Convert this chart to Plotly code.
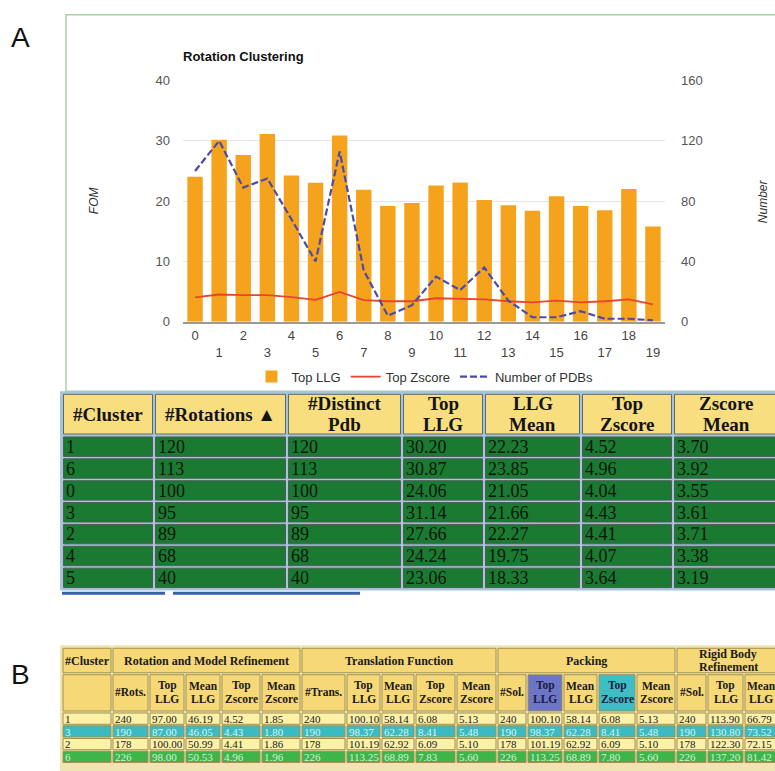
import plotly.graph_objects as go

W, H = 775, 771


def fx(x):
    return x / W


def fy(y):
    return 1 - y / H


# ---------------- chart data ----------------
clusters = list(range(20))
top_llg = [24.06, 30.20, 27.66, 31.14, 24.24, 23.06, 30.87, 21.9, 19.2, 19.7,
           22.6, 23.1, 20.2, 19.3, 18.4, 20.8, 19.2, 18.5, 22.0, 15.8]
top_zscore = [4.04, 4.52, 4.41, 4.43, 4.07, 3.64, 4.96, 3.6, 3.4, 3.4,
              3.9, 3.8, 3.7, 3.4, 3.2, 3.5, 3.2, 3.4, 3.7, 2.9]
n_pdbs = [100, 120, 89, 95, 68, 40, 113, 34, 4, 11,
          30, 21, 36, 14, 3, 3, 7, 2, 2, 1]
fom_ticks = [0, 10, 20, 30, 40]
number_ticks = [0, 40, 80, 120, 160]

# ---------------- table A data ----------------
ta_headers = ["#Cluster", "#Rotations ▲", "#Distinct<br>Pdb", "Top<br>LLG",
              "LLG<br>Mean", "Top<br>Zscore", "Zscore<br>Mean"]
ta_cluster = ["1", "6", "0", "3", "2", "4", "5"]
ta_rotations = ["120", "113", "100", "95", "89", "68", "40"]
ta_distinct = ["120", "113", "100", "95", "89", "68", "40"]
ta_top_llg = ["30.20", "30.87", "24.06", "31.14", "27.66", "24.24", "23.06"]
ta_llg_mean = ["22.23", "23.85", "21.05", "21.66", "22.27", "19.75", "18.33"]
ta_top_z = ["4.52", "4.96", "4.04", "4.43", "4.41", "4.07", "3.64"]
ta_z_mean = ["3.70", "3.92", "3.55", "3.61", "3.71", "3.38", "3.19"]

# ---------------- table B data ----------------
tb_groups = ["#Cluster", "Rotation and Model Refinement", "Translation Function",
             "Packing", "Rigid Body<br>Refinement"]
tb_headers = ["", "#Rots.", "Top<br>LLG", "Mean<br>LLG", "Top<br>Zscore", "Mean<br>Zscore",
              "#Trans.", "Top<br>LLG", "Mean<br>LLG", "Top<br>Zscore", "Mean<br>Zscore",
              "#Sol.", "Top<br>LLG", "Mean<br>LLG", "Top<br>Zscore", "Mean<br>Zscore",
              "#Sol.", "Top<br>LLG", "Mean<br>LLG"]
tb_cluster = ["1", "3", "2", "6"]
rmr_rots = ["240", "190", "178", "226"]
rmr_top_llg = ["97.00", "87.00", "100.00", "98.00"]
rmr_mean_llg = ["46.19", "46.05", "50.99", "50.53"]
rmr_top_z = ["4.52", "4.43", "4.41", "4.96"]
rmr_mean_z = ["1.85", "1.80", "1.86", "1.96"]
tf_trans = ["240", "190", "178", "226"]
tf_top_llg = ["100.10", "98.37", "101.19", "113.25"]
tf_mean_llg = ["58.14", "62.28", "62.92", "68.89"]
tf_top_z = ["6.08", "8.41", "6.09", "7.83"]
tf_mean_z = ["5.13", "5.48", "5.10", "5.60"]
pk_sol = ["240", "190", "178", "226"]
pk_top_llg = ["100.10", "98.37", "101.19", "113.25"]
pk_mean_llg = ["58.14", "62.28", "62.92", "68.89"]
pk_top_z = ["6.08", "8.41", "6.09", "7.80"]
pk_mean_z = ["5.13", "5.48", "5.10", "5.60"]
rb_sol = ["240", "190", "178", "226"]
rb_top_llg = ["113.90", "130.80", "122.30", "137.20"]
rb_mean_llg = ["66.79", "73.52", "72.15", "81.42"]

SANS = "Liberation Sans, Arial, sans-serif"
SERIF = "Liberation Serif, Times New Roman, serif"

shapes = []
annotations = []


def rect(x0, y0, x1, y1, fill, line_color=None, line_width=0):
    shapes.append(dict(type="rect", xref="paper", yref="paper",
                       x0=fx(x0), x1=fx(x1), y0=fy(y1), y1=fy(y0),
                       fillcolor=fill, layer="below",
                       line=dict(color=line_color or fill, width=line_width)))


def label(x, y, text, size, color, family, bold=False, anchor="left",
          line_gap=None, angle=0):
    lines = text.split("<br>")
    gap = line_gap if line_gap is not None else size * 1.05
    start = y - gap * (len(lines) - 1) / 2
    for i, ln in enumerate(lines):
        if not ln:
            continue
        annotations.append(dict(
            xref="paper", yref="paper", x=fx(x), y=fy(start + i * gap),
            text=f"<b>{ln}</b>" if bold else ln, showarrow=False,
            xanchor=anchor, yanchor="middle", textangle=angle, borderpad=0,
            font=dict(size=size, color=color, family=family)))


# ---------------- chart panel ----------------
rect(66, 8, 800, 392, "white", "#a9d1a9", 1.5)

fig = go.Figure()
fig.add_trace(go.Bar(x=clusters, y=top_llg, name="Top LLG",
                     marker=dict(color="#f5a31c", line=dict(width=0)),
                     yaxis="y"))
fig.add_trace(go.Scatter(x=clusters, y=top_zscore, name="Top Zscore", mode="lines",
                         line=dict(color="#e8452c", width=1.8), yaxis="y"))
fig.add_trace(go.Scatter(x=clusters, y=n_pdbs, name="Number of PDBs", mode="lines",
                         line=dict(color="#4b4ba8", width=2.2, dash="7px,3px"),
                         yaxis="y2"))

tick_text = [str(c) if c % 2 == 0 else "<br>" + str(c) for c in clusters]

label(182, 50, "Rotation Clustering", 13, "#111", SANS, bold=True)
label(94, 198, "<i>FOM</i>", 12, "#333", SANS, anchor="center", angle=-90)
label(763, 198, "<i>Number</i>", 12, "#333", SANS, anchor="center", angle=-90)

# ---------------- table A ----------------
ta_edges = [62, 154, 287, 402, 484, 581, 673, 800]
ta_cols = [ta_cluster, ta_rotations, ta_distinct, ta_top_llg, ta_llg_mean, ta_top_z, ta_z_mean]
ta_head_top, ta_head_bot, ta_row_h = 394, 437, 22.3
rect(60, 392, 800, ta_head_bot + ta_row_h * len(ta_cluster) + 2, "#a8c5d8")
for j, head in enumerate(ta_headers):
    x0, x1 = ta_edges[j], ta_edges[j + 1]
    rect(x0 + 1.5, ta_head_top + 1, x1 - 1.5, ta_head_bot - 1.5, "#f9de80", "#5a6a72", 1)
    label((x0 + x1) / 2 if j < 6 else (x0 + 780) / 2, (ta_head_top + ta_head_bot) / 2,
          head, 19, "#141414", SERIF, bold=True, anchor="center", line_gap=21.5)
    for i, val in enumerate(ta_cols[j]):
        y0 = ta_head_bot + i * ta_row_h
        rect(x0 + 1.5, y0 + 1.5, x1 - 1.5, y0 + ta_row_h - 1, "#1b7a32", "#4d5c58", 1)
        label(x0 + 3, y0 + ta_row_h / 2 + 0.5, val, 18, "#0c170c", SERIF)

# horizontal scroll strip under table A
for sx0, sx1 in [(62, 165), (173, 360)]:
    shapes.append(dict(type="line", xref="paper", yref="paper", layer="below",
                       x0=fx(sx0), x1=fx(sx1), y0=fy(598), y1=fy(598),
                       line=dict(color="#3b5fa6", width=3)))

# ---------------- table B ----------------
tb_group_edges = [62, 112, 301, 497, 676, 790]
tb_edges = [62, 112, 149, 185, 221, 261, 301, 346, 381, 415, 456,
            497, 527, 563, 598, 636, 676, 707, 744, 790]
tb_cols = [tb_cluster, rmr_rots, rmr_top_llg, rmr_mean_llg, rmr_top_z, rmr_mean_z,
           tf_trans, tf_top_llg, tf_mean_llg, tf_top_z, tf_mean_z,
           pk_sol, pk_top_llg, pk_mean_llg, pk_top_z, pk_mean_z,
           rb_sol, rb_top_llg, rb_mean_llg]
tb_head_fill = ["#f6d877"] * 19
tb_head_fill[12] = "#6d76c6"
tb_head_fill[14] = "#3fbdc5"
tb_row_fill = ["#fbf2a8", "#3cbac3", "#fbf2a8", "#3db54b"]
tb_row_font = ["#202020", "#d9f2ee", "#202020", "#d6f0d6"]
g_top, g_bot, h_bot, tb_row_h = 653, 680, 719, 13

rect(60, 651, 800, 800, "#efe5b2")
for j, grp in enumerate(tb_groups):
    x0, x1 = tb_group_edges[j], tb_group_edges[j + 1]
    rect(x0 + 1, g_top + 1, x1 - 1, g_bot - 1, "#f6d877", "#a3914f", 1)
    cx = (x0 + x1) / 2 if j < 4 else (x0 + 780) / 2
    label(cx, (g_top + g_bot) / 2, grp, 12, "#1a1a1a", SERIF, bold=True,
          anchor="center", line_gap=13)
for j, head in enumerate(tb_headers):
    x0, x1 = tb_edges[j], tb_edges[j + 1]
    rect(x0 + 1, g_bot + 1, x1 - 1, h_bot - 1, tb_head_fill[j], "#a3914f", 1)
    label((x0 + x1) / 2 if j < 18 else (x0 + 778) / 2, (g_bot + h_bot) / 2 - 0.5, head, 11.5,
          "#1a1a40" if j in (12, 14) else "#1a1a1a", SERIF, bold=True,
          anchor="center", line_gap=13.5)
    for i, val in enumerate(tb_cols[j]):
        y0 = h_bot + i * tb_row_h
        rect(x0 + 1, y0 + 1, x1 - 1, y0 + tb_row_h - 0.5, tb_row_fill[i], "#a3914f", 1)
        label(x0 + 2, y0 + tb_row_h / 2 + 0.5, val, 11, tb_row_font[i], SERIF)

# panel letters
label(20, 31, "A", 28, "#111", SANS, anchor="center")
label(20, 681, "B", 28, "#111", SANS, anchor="center")

fig.update_layout(
    width=W, height=H, margin=dict(l=0, r=0, t=0, b=0),
    paper_bgcolor="white", plot_bgcolor="rgba(0,0,0,0)",
    bargap=0.36, showlegend=True,
    font=dict(family=SANS, size=13, color="#444"),
    xaxis=dict(domain=[fx(183), fx(665)], range=[-0.5, 19.5],
               tickvals=clusters, ticktext=tick_text, ticks="",
               tickfont=dict(size=13, color="#444", family=SANS),
               showgrid=False, zeroline=False, showline=True,
               linecolor="#9a9a9a", linewidth=1.5, ticklabelstandoff=1),
    yaxis=dict(domain=[fy(321), fy(75)], range=[0, 40], tickvals=fom_ticks,
               showgrid=True, gridcolor="#e6e6e6", gridwidth=1, zeroline=False,
               tickfont=dict(size=13, color="#555", family=SANS),
               ticks="", ticklabelstandoff=12, showline=False),
    yaxis2=dict(overlaying="y", side="right", range=[0, 160], tickvals=number_ticks,
                showgrid=False, zeroline=False,
                tickfont=dict(size=13, color="#555", family=SANS),
                ticks="", ticklabelstandoff=15, showline=False),
    legend=dict(orientation="h", x=fx(425), xanchor="center", y=fy(377),
                yanchor="middle", font=dict(size=13, color="#333", family=SANS),
                bgcolor="rgba(0,0,0,0)", itemwidth=30, traceorder="normal"),
    shapes=shapes, annotations=annotations,
)

fig.write_html("out.html")
